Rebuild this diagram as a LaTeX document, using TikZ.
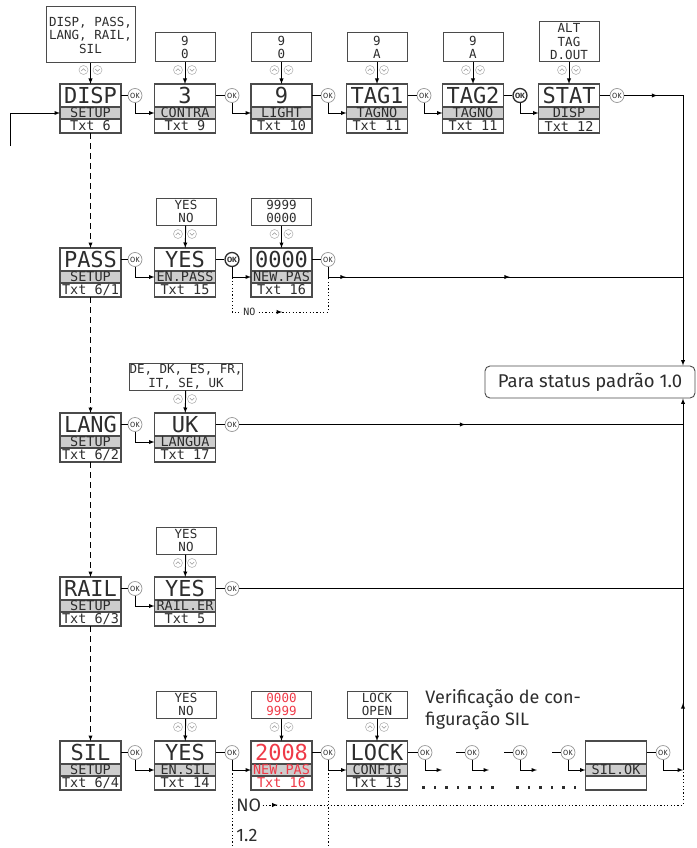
\documentclass[tikz,border=0pt]{standalone}
\usepackage{fontspec}
\setmainfont{Fira Sans}
\newfontfamily\lcdfont{DejaVu Sans Mono}
\usetikzlibrary{positioning,decorations.markings}
\definecolor{lcdband}{RGB}{205,205,205}
\definecolor{lcdline}{RGB}{75,75,75}
\definecolor{lcdtext}{RGB}{45,45,45}
\definecolor{lcdred}{RGB}{238,58,72}
\definecolor{okline}{RGB}{150,150,150}

\begin{document}
\begin{tikzpicture}[x=1pt, y=-1pt, line width=0.9pt, >=latex,
    lcd/.style={draw=lcdline, line width=1.2pt, outer sep=0pt, inner sep=0pt, minimum width=61pt, minimum height=23pt, text=lcdtext, font=\lcdfont\fontsize{22}{22}\selectfont},
    lcdm/.style={lcd, fill=lcdband, minimum height=12pt, font=\lcdfont\fontsize{13.5}{13.5}\selectfont},
    lcdb/.style={lcd, minimum height=14pt, font=\lcdfont\fontsize{13.5}{13.5}\selectfont},
    lcdred/.style={text=lcdred},
    opt/.style={draw=lcdline, line width=1pt, inner sep=0pt, minimum width=60pt, minimum height=29pt, align=center, text=lcdtext, font=\lcdfont\fontsize{12.5}{13.5}\selectfont},
    ok/.style={circle, draw=okline, line width=0.7pt, fill=white, minimum size=14pt, inner sep=0pt, text=lcdtext, font=\fontsize{7.5}{8}\selectfont},
    okb/.style={ok, draw=lcdtext, line width=1.3pt, font=\bfseries\fontsize{7.5}{8}\selectfont},
    up/.style={circle, draw=okline!70, line width=0.6pt, minimum size=9pt, inner sep=0pt,
        path picture={\draw[okline, line width=0.6pt] ([shift={(-2.2pt,-1pt)}]path picture bounding box.center) -- ++(2.2pt,2.2pt) -- ++(2.2pt,-2.2pt);}},
    dn/.style={circle, draw=okline!70, line width=0.6pt, minimum size=9pt, inner sep=0pt,
        path picture={\draw[okline, line width=0.6pt] ([shift={(-2.2pt,1pt)}]path picture bounding box.center) -- ++(2.2pt,-2.2pt) -- ++(2.2pt,2.2pt);}},
    dashdown/.style={->, dash pattern=on 6pt off 4pt},
    noline/.style={dash pattern=on 1.2pt off 2.2pt},
    note/.style={inner sep=1pt, text=lcdtext, font=\fontsize{18}{22}\selectfont},
    status/.style={draw=lcdline, rounded corners=5pt, minimum width=210pt, minimum height=32pt, note, font=\fontsize{18.5}{22}\selectfont},
    midarrow/.style={postaction={decorate, decoration={markings, mark=at position #1 with {\arrow{latex}}}}}
  ]
  \useasboundingbox (0,0) rectangle (696,848);

  % Row 1: DISP
  \node[opt, minimum width=89pt, minimum height=56pt] (disp-o) at (90.5,35) {DISP, PASS,\\LANG, RAIL,\\SIL};
  \node[lcd] (disp) at (90.5,95.5) {DISP};
  \node[lcdm, below=0pt of disp] (disp-m) {SETUP};
  \node[lcdb, below=0pt of disp-m] (disp-b) {Txt 6};
  \node[up] (disp-u) at (83.5,70) {};
  \node[dn] (disp-d) at (97.5,70) {};
  \node[ok] (disp-ok) at (135,95.5) {OK};

  \node[opt] (contra-o) at (185,47.5) {9\\0};
  \node[lcd] (contra) at (185,95.5) {3};
  \node[lcdm, below=0pt of contra] (contra-m) {CONTRA};
  \node[lcdb, below=0pt of contra-m] (contra-b) {Txt 9};
  \node[up] (contra-u) at (178,70) {};
  \node[dn] (contra-d) at (192,70) {};
  \node[ok] (contra-ok) at (232,95.5) {OK};

  \node[opt] (light-o) at (281.5,47.5) {9\\0};
  \node[lcd] (light) at (281.5,95.5) {9};
  \node[lcdm, below=0pt of light] (light-m) {LIGHT};
  \node[lcdb, below=0pt of light-m] (light-b) {Txt 10};
  \node[up] (light-u) at (274.5,70) {};
  \node[dn] (light-d) at (288.5,70) {};
  \node[ok] (light-ok) at (328,95.5) {OK};

  \node[opt] (tag1-o) at (377,47.5) {9\\A};
  \node[lcd] (tag1) at (377,95.5) {TAG1};
  \node[lcdm, below=0pt of tag1] (tag1-m) {TAGNO};
  \node[lcdb, below=0pt of tag1-m] (tag1-b) {Txt 11};
  \node[up] (tag1-u) at (370,70) {};
  \node[dn] (tag1-d) at (384,70) {};
  \node[ok] (tag1-ok) at (424,95.5) {OK};

  \node[opt] (tag2-o) at (473,47.5) {9\\A};
  \node[lcd] (tag2) at (473,95.5) {TAG2};
  \node[lcdm, below=0pt of tag2] (tag2-m) {TAGNO};
  \node[lcdb, below=0pt of tag2-m] (tag2-b) {Txt 11};
  \node[up] (tag2-u) at (466,70) {};
  \node[dn] (tag2-d) at (480,70) {};
  \node[okb] (tag2-ok) at (520,95.5) {OK};

  \node[opt, minimum height=40pt] (stat-o) at (569,42) {ALT\\TAG\\D.OUT};
  \node[lcd] (stat) at (569,95.5) {STAT};
  \node[lcdm, below=0pt of stat] (stat-m) {DISP};
  \node[lcdb, below=0pt of stat-m] (stat-b) {Txt 12};
  \node[up] (stat-u) at (562,70) {};
  \node[dn] (stat-d) at (576,70) {};
  \node[ok] (stat-ok) at (617,95.5) {OK};

  % Row 2: PASS
  \node[lcd] (pass) at (90.5,259.5) {PASS};
  \node[lcdm, below=0pt of pass] (pass-m) {SETUP};
  \node[lcdb, below=0pt of pass-m] (pass-b) {Txt 6/1};
  \node[ok] (pass-ok) at (135,259.5) {OK};

  \node[opt, minimum height=27pt] (enpass-o) at (186,211.5) {YES\\NO};
  \node[lcd] (enpass) at (185,259.5) {YES};
  \node[lcdm, below=0pt of enpass] (enpass-m) {EN.PASS};
  \node[lcdb, below=0pt of enpass-m] (enpass-b) {Txt 15};
  \node[up] (enpass-u) at (178,234) {};
  \node[dn] (enpass-d) at (192,234) {};
  \node[okb] (enpass-ok) at (232,259.5) {OK};

  \node[opt, minimum height=27pt] (newpas-o) at (281.5,211.5) {9999\\0000};
  \node[lcd] (newpas) at (281.5,259.5) {0000};
  \node[lcdm, below=0pt of newpas] (newpas-m) {NEW.PAS};
  \node[lcdb, below=0pt of newpas-m] (newpas-b) {Txt 16};
  \node[up] (newpas-u) at (274.5,234) {};
  \node[dn] (newpas-d) at (288.5,234) {};
  \node[ok] (newpas-ok) at (328,259.5) {OK};
  \coordinate (no2) at (328,312);

  % Row 3: LANG
  \node[lcd] (lang) at (90.5,424.5) {LANG};
  \node[lcdm, below=0pt of lang] (lang-m) {SETUP};
  \node[lcdb, below=0pt of lang-m] (lang-b) {Txt 6/2};
  \node[ok] (lang-ok) at (135,424.5) {OK};

  \node[opt, minimum width=108pt, minimum height=27pt] (langua-o) at (186,376.5) {DE, DK, ES, FR,\\IT, SE, UK};
  \node[lcd] (langua) at (185,424.5) {UK};
  \node[lcdm, below=0pt of langua] (langua-m) {LANGUA};
  \node[lcdb, below=0pt of langua-m] (langua-b) {Txt 17};
  \node[up] (langua-u) at (178,399) {};
  \node[dn] (langua-d) at (192,399) {};
  \node[ok] (langua-ok) at (232,424.5) {OK};

  % Row 4: RAIL
  \node[lcd] (rail) at (90.5,588.5) {RAIL};
  \node[lcdm, below=0pt of rail] (rail-m) {SETUP};
  \node[lcdb, below=0pt of rail-m] (rail-b) {Txt 6/3};
  \node[ok] (rail-ok) at (135,588.5) {OK};

  \node[opt, minimum height=27pt] (railer-o) at (186,540.5) {YES\\NO};
  \node[lcd] (railer) at (185,588.5) {YES};
  \node[lcdm, below=0pt of railer] (railer-m) {RAIL.ER};
  \node[lcdb, below=0pt of railer-m] (railer-b) {Txt 5};
  \node[up] (railer-u) at (178,563) {};
  \node[dn] (railer-d) at (192,563) {};
  \node[ok] (railer-ok) at (232,588.5) {OK};

  % Row 5: SIL
  \node[lcd] (sil) at (90.5,752.5) {SIL};
  \node[lcdm, below=0pt of sil] (sil-m) {SETUP};
  \node[lcdb, below=0pt of sil-m] (sil-b) {Txt 6/4};
  \node[ok] (sil-ok) at (135,752.5) {OK};

  \node[opt, minimum height=27pt] (ensil-o) at (186,704.5) {YES\\NO};
  \node[lcd] (ensil) at (185,752.5) {YES};
  \node[lcdm, below=0pt of ensil] (ensil-m) {EN.SIL};
  \node[lcdb, below=0pt of ensil-m] (ensil-b) {Txt 14};
  \node[up] (ensil-u) at (178,727) {};
  \node[dn] (ensil-d) at (192,727) {};
  \node[ok] (ensil-ok) at (232,752.5) {OK};

  \node[opt, minimum height=27pt, lcdred] (silpas-o) at (281.5,704.5) {0000\\9999};
  \node[lcd, lcdred] (silpas) at (281.5,752.5) {2008};
  \node[lcdm, lcdred, below=0pt of silpas] (silpas-m) {NEW.PAS};
  \node[lcdb, lcdred, below=0pt of silpas-m] (silpas-b) {Txt 16};
  \node[up] (silpas-u) at (274.5,727) {};
  \node[dn] (silpas-d) at (288.5,727) {};
  \node[ok] (silpas-ok) at (328,752.5) {OK};

  \node[opt, minimum height=27pt] (config-o) at (377,704.5) {LOCK\\OPEN};
  \node[lcd] (config) at (377,752.5) {LOCK};
  \node[lcdm, below=0pt of config] (config-m) {CONFIG};
  \node[lcdb, below=0pt of config-m] (config-b) {Txt 13};
  \node[up] (config-u) at (370,727) {};
  \node[dn] (config-d) at (384,727) {};
  \node[ok] (config-ok) at (425,752.5) {OK};

  \node[ok] (chk2-ok) at (472,752.5) {OK};
  \node[ok] (chk3-ok) at (520,752.5) {OK};
  \node[ok] (chk4-ok) at (568,752.5) {OK};
  \coordinate (chk2-in) at (456,752.5);
  \coordinate (chk3-in) at (504,752.5);
  \coordinate (chk4-in) at (552,752.5);
  \coordinate (chk1-out) at (442,770);
  \coordinate (chk2-out) at (489,770);
  \coordinate (chk3-out) at (537,770);

  \node[lcd] (silok) at (616,752.5) {};
  \node[lcdm, below=0pt of silok] (silok-m) {SIL.OK};
  \node[lcdb, below=0pt of silok-m] (silok-b) {};
  \node[ok] (silok-ok) at (663,752.5) {OK};

  \node[note, anchor=north west, align=left, inner sep=0pt] (silnote) at (425,689) {Verificação de con-\\figuração SIL};
  \foreach \x in {422,433.5,...,502} \fill[lcdtext] (\x,786) rectangle ++(2.6,2.6);
  \foreach \x in {516,527.5,...,575} \fill[lcdtext] (\x,786) rectangle ++(2.6,2.6);

  % Right column
  \node[status] (status) at (590,382) {Para status padrão 1.0};
  \coordinate (trunk-top) at (683,95.5);
  \coordinate (trunk-bot) at (683,770);
  \coordinate (fb) at (10,146);
  \coordinate (bottom) at (0,848);

  % Option selectors
  \foreach \n in {disp,contra,light,tag1,tag2,stat,enpass,newpas,langua,railer,ensil,silpas,config}
    \draw[->] (\n-o) -- (\n);

  % Setup menu chain
  \draw[->] (fb) |- (disp-m);
  \draw[dashdown] (disp-b) -- (pass);
  \draw[dashdown] (pass-b) -- (lang);
  \draw[dashdown] (lang-b) -- (rail);
  \draw[dashdown] (rail-b) -- (sil);

  % Row 1
  \draw (disp) -- (disp-ok);
  \draw[->] (disp-ok) |- (contra-m);
  \draw (contra) -- (contra-ok);
  \draw[->] (contra-ok) |- (light-m);
  \draw (light) -- (light-ok);
  \draw[->] (light-ok) |- (tag1-m);
  \draw (tag1) -- (tag1-ok);
  \draw[->] (tag1-ok) |- (tag2-m);
  \draw (tag2) -- (tag2-ok);
  \draw[->] (tag2-ok) |- (stat-m);
  \draw (stat) -- (stat-ok);
  \draw[->, midarrow=33pt] (stat-ok) -- (trunk-top) -- (status.north -| trunk-top);

  % Row 2
  \draw (pass) -- (pass-ok);
  \draw[->] (pass-ok) |- (enpass-m);
  \draw (enpass) -- (enpass-ok);
  \draw[->] (enpass-ok) |- (newpas-m);
  \draw (newpas) -- (newpas-ok);
  \draw[midarrow=28pt, midarrow=192pt] (newpas-ok) |- (trunk-top |- newpas-m);
  \draw[noline, midarrow=95pt] (enpass-ok) |- node[pos=0.59, fill=white, inner sep=1pt, text=lcdtext, font=\lcdfont\fontsize{10}{10}\selectfont] (no2-lbl) {NO} (no2) -- (newpas-ok |- newpas-m);

  % Row 3
  \draw (lang) -- (lang-ok);
  \draw[->] (lang-ok) |- (langua-m);
  \draw (langua) -- (langua-ok);
  \draw[midarrow=226pt] (langua-ok) -- (trunk-top |- langua-ok);

  % Row 4
  \draw (rail) -- (rail-ok);
  \draw[->] (rail-ok) |- (railer-m);
  \draw (railer) -- (railer-ok);
  \draw (railer-ok) -- (trunk-top |- railer-ok);

  % Row 5
  \draw (sil) -- (sil-ok);
  \draw[->] (sil-ok) |- (ensil-m);
  \draw (ensil) -- (ensil-ok);
  \draw[->] (ensil-ok) |- (silpas-m);
  \draw (silpas) -- (silpas-ok);
  \draw[->] (silpas-ok) |- (config-m);
  \draw (config) -- (config-ok);
  \draw[->] (config-ok) |- (chk1-out);
  \draw (chk2-in) -- (chk2-ok);
  \draw[->] (chk2-ok) |- (chk2-out);
  \draw (chk3-in) -- (chk3-ok);
  \draw[->] (chk3-ok) |- (chk3-out);
  \draw (chk4-in) -- (chk4-ok);
  \draw[->] (chk4-ok) |- (silok-m);
  \draw (silok) -- (silok-ok);
  \draw[->] (silok-ok) |- (trunk-bot);
  \draw[->, midarrow=67pt] (trunk-bot) -- (status.south -| trunk-bot);

  % NO branch and level 1.2
  \node[note, anchor=west] (no5) at (235,805) {NO};
  \node[note, anchor=west] (lvl) at (235,835) {1.2};
  \draw[noline] (ensil-ok) -- (ensil-ok |- bottom);
  \draw[noline] (silpas-ok) -- (silpas-ok |- bottom);
  \draw[noline, midarrow=15pt] (no5) -- (trunk-bot |- no5) -- (trunk-bot);
\end{tikzpicture}
\end{document}
